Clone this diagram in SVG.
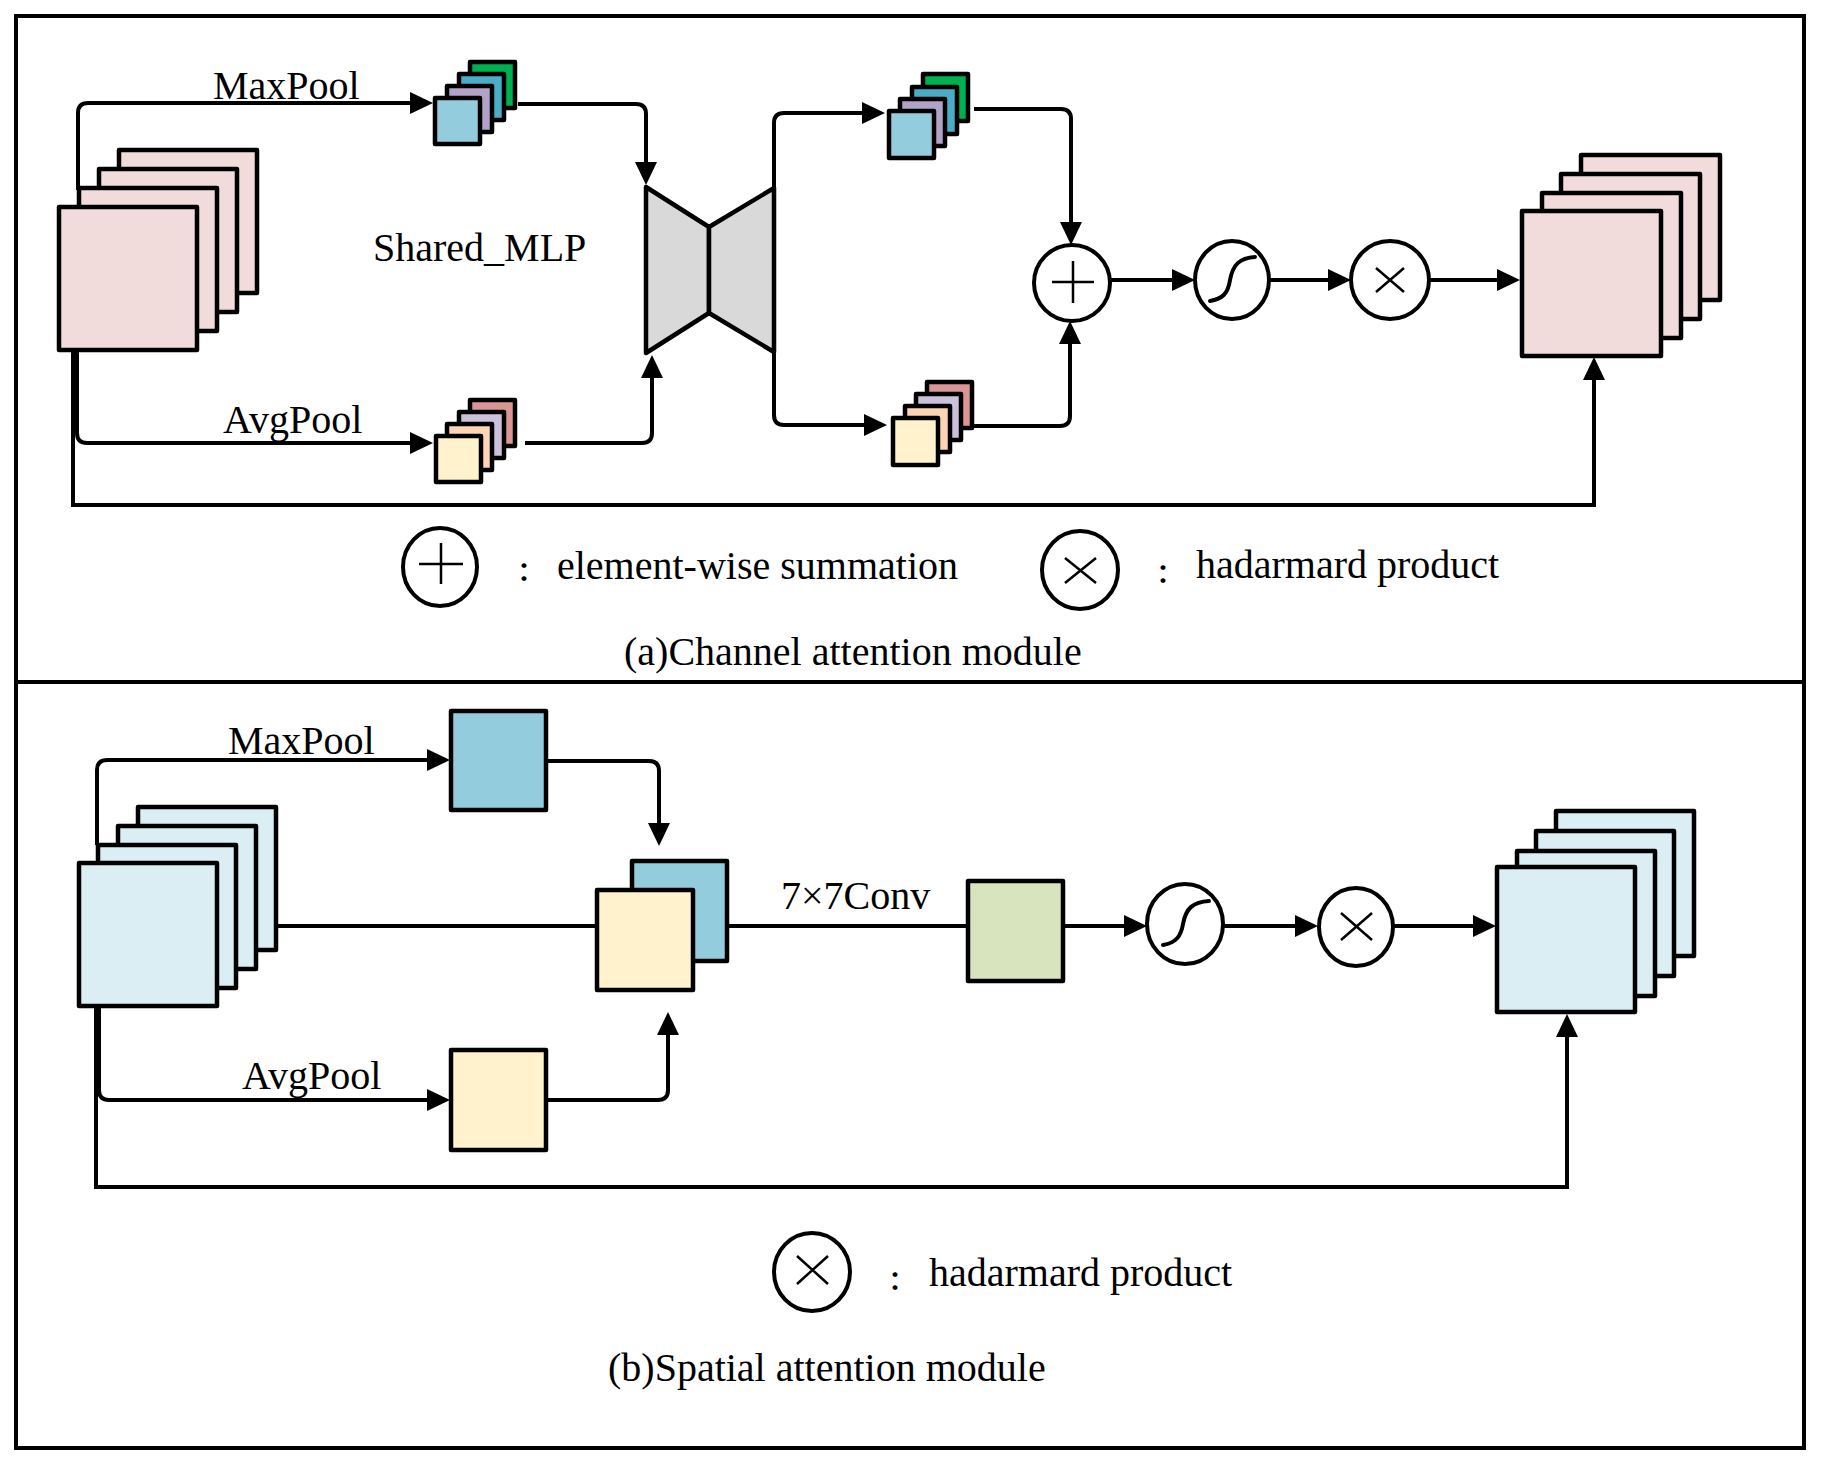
<svg xmlns="http://www.w3.org/2000/svg" width="1821" height="1474" viewBox="0 0 1821 1474">
<defs>
<style>
.frame{fill:none;stroke:#000;stroke-width:4}
.blk rect,.blk polygon{stroke:#000;stroke-width:4.5;stroke-linejoin:round}
.pink{fill:#F2DCDB}.lblue{fill:#DAEEF3}.mblue{fill:#93CDDD}.purple{fill:#B3A2C7}.teal{fill:#4BACC6}.green{fill:#00B050}
.cream{fill:#FFF2CC}.peach{fill:#FCD5B5}.lav{fill:#CCC1DA}.rose{fill:#D99694}.olive{fill:#D7E4BD}.gray{fill:#D9D9D9}
.op ellipse{fill:#fff;stroke:#000;stroke-width:4}
.sym{fill:none;stroke:#000;stroke-width:2.5}
.sig{fill:none;stroke:#000;stroke-width:4;stroke-linecap:round}
.con path{fill:none;stroke:#000;stroke-width:4}
.arr{marker-end:url(#ah)}
text{font-family:'Liberation Serif','Times New Roman',serif;font-size:40px;fill:#000}
.colon{font-family:'Noto Sans CJK JP','Noto Sans CJK SC',sans-serif;font-size:26px;font-weight:bold;text-anchor:middle}
</style>
<marker id="ah" viewBox="0 0 23 22" refX="13" refY="11" markerWidth="23" markerHeight="22" markerUnits="userSpaceOnUse" orient="auto"><path d="M0,0 L23,11 L0,22 z" fill="#000"/></marker>
</defs>
<rect width="1821" height="1474" fill="#fff"/>
<rect class="frame" x="16" y="16" width="1788" height="1432"/>
<line class="frame" x1="16" y1="682" x2="1804" y2="682"/>

<g id="connectors" class="con">
<!-- (a) -->
<path class="arr" d="M78,190 V113 Q78,103 88,103 H423"/>
<path class="arr" d="M518,104 H636 Q646,104 646,114 V175"/>
<path class="arr" d="M77,350 V433 Q77,443 87,443 H423"/>
<path class="arr" d="M525,443 H642 Q652,443 652,433 V365"/>
<path class="arr" d="M774,188 V123 Q774,113 784,113 H875"/>
<path class="arr" d="M774,352 V415 Q774,425 784,425 H877"/>
<path class="arr" d="M974,109 H1061 Q1071,109 1071,119 V235"/>
<path class="arr" d="M972,426 H1060 Q1070,426 1070,416 V331"/>
<path class="arr" d="M1110,280 H1185"/>
<path class="arr" d="M1270,280 H1341"/>
<path class="arr" d="M1429,280 H1510"/>
<path class="arr" d="M73,350 V505 H1594 V367"/>
<!-- (b) -->
<path class="arr" d="M97,845 V770 Q97,760 107,760 H440"/>
<path class="arr" d="M546,761 H649 Q659,761 659,771 V836"/>
<path class="arr" d="M99,1006 V1090 Q99,1100 109,1100 H440"/>
<path class="arr" d="M546,1100 H658 Q668,1100 668,1090 V1022"/>
<path d="M276,926 H597"/>
<path d="M727,926 H968"/>
<path class="arr" d="M1063,926 H1137"/>
<path class="arr" d="M1223,926 H1308"/>
<path class="arr" d="M1393,926 H1486"/>
<path class="arr" d="M96,1006 V1187 H1567 V1024"/>
</g>

<!-- (a) Channel attention module -->
<g id="a-input" class="blk">
<rect class="pink" x="119" y="150" width="138" height="143"/>
<rect class="pink" x="99" y="169" width="138" height="143"/>
<rect class="pink" x="79" y="188" width="138" height="143"/>
<rect class="pink" x="59" y="207" width="138" height="143"/>
</g>
<g id="a-maxpool" class="blk">
<rect class="green" x="470" y="62" width="45" height="46"/>
<rect class="teal" x="459" y="74" width="45" height="46"/>
<rect class="purple" x="447" y="86" width="45" height="46"/>
<rect class="mblue" x="435" y="98" width="45" height="46"/>
</g>
<g id="a-avgpool" class="blk">
<rect class="rose" x="470" y="400" width="45" height="46"/>
<rect class="lav" x="459" y="412" width="45" height="46"/>
<rect class="peach" x="447" y="424" width="45" height="46"/>
<rect class="cream" x="436" y="436" width="45" height="46"/>
</g>
<g id="a-mlp" class="blk">
<polygon class="gray" points="646,187 709,227 709,313 646,353"/>
<polygon class="gray" points="709,227 774,188 774,352 709,313"/>
</g>
<g id="a-max-out" class="blk">
<rect class="green" x="923" y="74" width="45" height="47"/>
<rect class="teal" x="912" y="87" width="45" height="47"/>
<rect class="purple" x="900" y="99" width="45" height="47"/>
<rect class="mblue" x="889" y="111" width="45" height="47"/>
</g>
<g id="a-avg-out" class="blk">
<rect class="rose" x="927" y="382" width="45" height="46"/>
<rect class="lav" x="916" y="394" width="45" height="46"/>
<rect class="peach" x="905" y="406" width="45" height="46"/>
<rect class="cream" x="893" y="418" width="45" height="47"/>
</g>
<g id="a-sum" class="op">
<ellipse cx="1072" cy="283" rx="38" ry="38"/>
<path class="sym" d="M1052,282 H1094 M1073,261 V303"/>
</g>
<g id="a-sigmoid" class="op">
<ellipse cx="1232" cy="280" rx="37" ry="39"/>
<path class="sig" d="M1210,301 C1222,299 1228,294 1230,280 C1233,264 1240,258 1255,257"/>
</g>
<g id="a-product" class="op">
<ellipse cx="1390" cy="280" rx="39" ry="39"/>
<path class="sym" d="M1376,268 L1404,292 M1404,268 L1376,292"/>
</g>
<g id="a-output" class="blk">
<rect class="pink" x="1581" y="155" width="139" height="145"/>
<rect class="pink" x="1561" y="174" width="139" height="145"/>
<rect class="pink" x="1542" y="193" width="139" height="145"/>
<rect class="pink" x="1522" y="211" width="139" height="145"/>
</g>
<text x="213" y="99">MaxPool</text>
<text x="223" y="433">AvgPool</text>
<text x="373" y="261">Shared_MLP</text>

<g id="a-legend">
<g class="op">
<ellipse cx="440" cy="567" rx="37" ry="39"/>
<path class="sym" d="M419,564 H463 M441,543 V584"/>
</g>
<text class="colon" x="524" y="582">：</text>
<text x="557" y="579">element-wise summation</text>
<g class="op">
<ellipse cx="1080" cy="570" rx="38" ry="39"/>
<path class="sym" d="M1065,558 L1096,583 M1096,558 L1065,583"/>
</g>
<text class="colon" x="1163" y="584">：</text>
<text x="1196" y="578">hadarmard product</text>
<text x="624" y="665">(a)Channel attention module</text>
</g>

<!-- (b) Spatial attention module -->
<g id="b-input" class="blk">
<rect class="lblue" x="138" y="807" width="138" height="143"/>
<rect class="lblue" x="118" y="826" width="138" height="143"/>
<rect class="lblue" x="98" y="845" width="138" height="143"/>
<rect class="lblue" x="79" y="863" width="138" height="143"/>
</g>
<g id="b-maxpool" class="blk"><rect class="mblue" x="451" y="711" width="95" height="99"/></g>
<g id="b-avgpool" class="blk"><rect class="cream" x="451" y="1050" width="95" height="100"/></g>
<g id="b-concat" class="blk">
<rect class="mblue" x="632" y="861" width="95" height="100"/>
<rect class="cream" x="597" y="890" width="96" height="100"/>
</g>
<g id="b-conv" class="blk"><rect class="olive" x="968" y="881" width="95" height="100"/></g>
<g id="b-sigmoid" class="op">
<ellipse cx="1185" cy="924" rx="38" ry="40"/>
<path class="sig" d="M1163,945 C1176,943 1181,936 1183,924 C1186,908 1193,902 1209,901"/>
</g>
<g id="b-product" class="op">
<ellipse cx="1356" cy="927" rx="37" ry="39"/>
<path class="sym" d="M1341,913 L1372,940 M1372,913 L1341,940"/>
</g>
<g id="b-output" class="blk">
<rect class="lblue" x="1556" y="811" width="138" height="145"/>
<rect class="lblue" x="1536" y="831" width="138" height="145"/>
<rect class="lblue" x="1517" y="851" width="138" height="145"/>
<rect class="lblue" x="1497" y="867" width="138" height="145"/>
</g>
<text x="228" y="754">MaxPool</text>
<text x="242" y="1089">AvgPool</text>
<text x="781" y="909">7×7Conv</text>

<g id="b-legend">
<g class="op">
<ellipse cx="812" cy="1272" rx="38" ry="39"/>
<path class="sym" d="M797,1256 L828,1284 M828,1256 L797,1284"/>
</g>
<text class="colon" x="895" y="1291">：</text>
<text x="929" y="1286">hadarmard product</text>
<text x="608" y="1381">(b)Spatial attention module</text>
</g>
</svg>
